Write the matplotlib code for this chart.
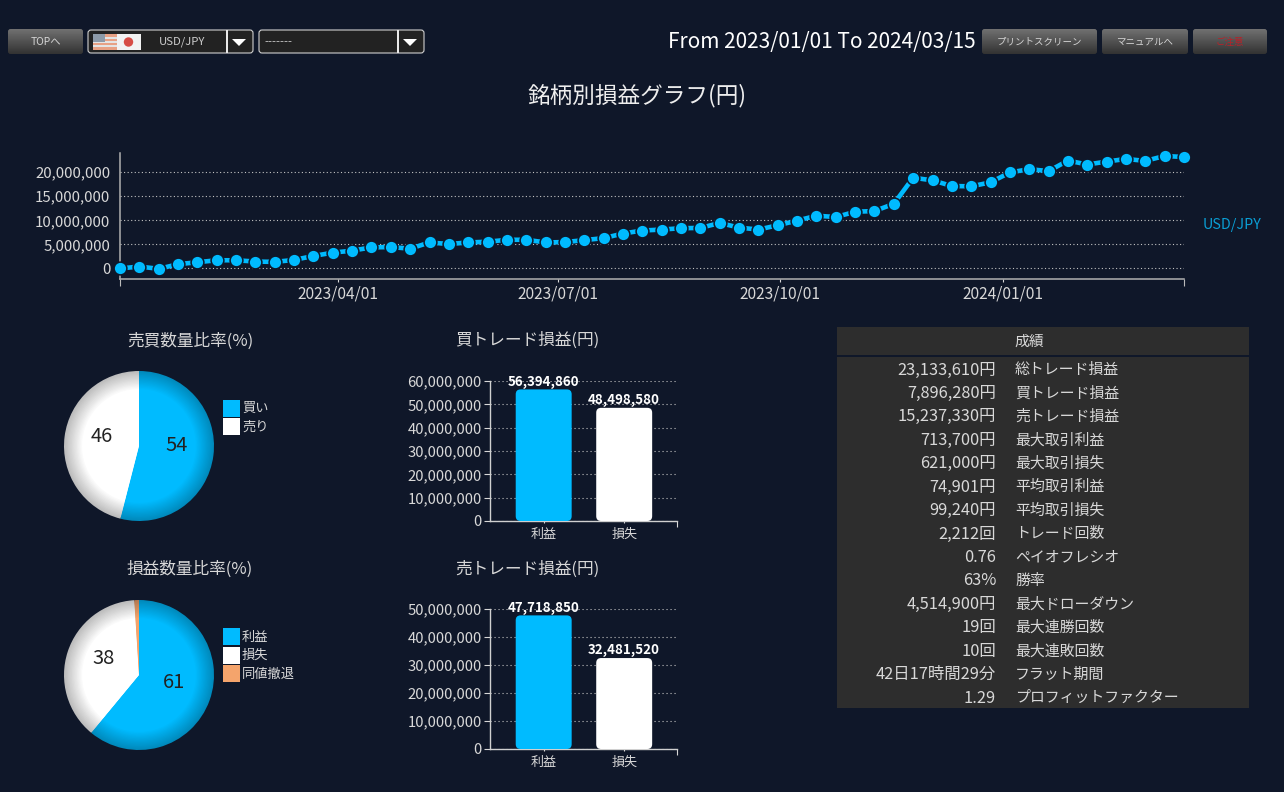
import matplotlib
matplotlib.use('Agg')
import matplotlib.pyplot as plt
import matplotlib.dates as mdates
from matplotlib.patches import Rectangle, FancyBboxPatch, Polygon, Circle
import numpy as np
import pandas as pd

plt.rcParams['font.family'] = ['Noto Sans CJK JP', 'DejaVu Sans']

BG = '#0f1729'
BLUE = '#00bbff'
ORANGE = '#f4a46c'
TXT = '#d8d8d8'
W, H = 1284, 792

# 損益推移 (8日ごと)
dates = pd.date_range('2023-01-01', periods=56, freq='8D')
profit = [0, 0.41, -0.07, 0.89, 1.30, 1.71, 1.71, 1.44, 1.37, 1.78, 2.60, 3.29, 3.70, 4.38,
          4.45, 4.11, 5.41, 5.07, 5.41, 5.55, 5.96, 5.96, 5.41, 5.48, 5.89, 6.30, 7.26, 7.88,
          8.08, 8.36, 8.42, 9.45, 8.49, 8.08, 8.97, 9.93, 10.96, 10.68, 11.78, 11.92, 13.42,
          18.84, 18.29, 17.12, 17.05, 17.88, 19.93, 20.62, 20.21, 22.40, 21.58, 22.19, 22.74,
          22.33, 23.36, 23.13]
line_ticks = [0, 5000000, 10000000, 15000000, 20000000]
date_ticks = ['2023-04-01', '2023-07-01', '2023-10-01', '2024-01-01']

pie1_labels = ['買い', '売り']
pie1_values = [54, 46]
pie2_labels = ['利益', '損失', '同値撤退']
pie2_values = [61, 38, 1]

bar_cats = ['利益', '損失']
buy_values = [56394860, 48498580]
sell_values = [47718850, 32481520]

table_values = ['23,133,610円', '7,896,280円', '15,237,330円', '713,700円', '621,000円',
                '74,901円', '99,240円', '2,212回', '0.76', '63%', '4,514,900円', '19回',
                '10回', '42日17時間29分', '1.29']
table_names = ['総トレード損益', '買トレード損益', '売トレード損益', '最大取引利益', '最大取引損失',
               '平均取引利益', '平均取引損失', 'トレード回数', 'ペイオフレシオ', '勝率',
               '最大ドローダウン', '最大連勝回数', '最大連敗回数', 'フラット期間', 'プロフィットファクター']

fig = plt.figure(figsize=(W / 100, H / 100), dpi=100, facecolor=BG)


def px_axes(x0, y0, x1, y1):
    # ピクセル指定で軸を作る (y は上から)
    ax = fig.add_axes([x0 / W, 1 - y1 / H, (x1 - x0) / W, (y1 - y0) / H])
    ax.patch.set_alpha(0)
    return ax


# 画面パーツ用のオーバーレイ
ov = fig.add_axes([0, 0, 1, 1], zorder=-1)
ov.set_xlim(0, W)
ov.set_ylim(H, 0)
ov.axis('off')


def button(x0, x1, label, color='#d6d6d6', size=6.8):
    grad = np.linspace(0.44, 0.2, 30).reshape(-1, 1)
    im = ov.imshow(grad, extent=(x0, x1, 54, 29), aspect='auto', cmap='gray', vmin=0, vmax=1,
                   interpolation='bilinear')
    box = FancyBboxPatch((x0, 29), x1 - x0, 25, boxstyle='round,pad=0,rounding_size=2.5',
                         fc='none', ec='none')
    ov.add_patch(box)
    im.set_clip_path(box)
    ov.text((x0 + x1) / 2, 42, label, color=color, fontsize=size, ha='center', va='center')


def dropdown(x0, x1, label, label_x, ha):
    ov.add_patch(FancyBboxPatch((x0, 30), x1 - x0, 23, boxstyle='round,pad=0,rounding_size=3',
                                fc='#222222', ec='#d0d0d0', lw=0.8))
    ov.plot([x1 - 26, x1 - 26], [31, 52], color='white', lw=1.3)
    ov.add_patch(Polygon([[x1 - 21, 39], [x1 - 7, 39], [x1 - 14, 46]], fc='white', ec='none'))
    ov.text(label_x, 42, label, color='#cccccc', fontsize=8.2, ha=ha, va='center')


button(8, 83, 'TOPへ', size=7.4)
button(982, 1097, 'プリントスクリーン')
button(1102, 1188, 'マニュアルへ')
button(1193, 1267, 'ご注意', color='#b5232a')
ov.set_xlim(0, W)
ov.set_ylim(H, 0)
dropdown(88, 253, 'USD/JPY', 182, 'center')
dropdown(259, 424, '-------', 264, 'left')

# 国旗
ov.add_patch(Rectangle((93, 34), 24, 16, fc='#e8a184', ec='none'))
for yy in [37, 41, 45]:
    ov.add_patch(Rectangle((93, yy), 24, 1.5, fc='#e4e4e4', ec='none'))
ov.add_patch(Rectangle((93, 34), 12, 8, fc='#8d9aa8', ec='none'))
ov.add_patch(Rectangle((117, 34), 23.5, 16, fc='#f2f2f2', ec='none'))
ov.add_patch(Circle((128.5, 42), 4.7, fc='#d64c45', ec='none'))

ov.text(822, 42.5, 'From 2023/01/01 To 2024/03/15', color='white', fontsize=15, ha='center', va='center')
ov.text(637, 96, '銘柄別損益グラフ(円)', color='#eeeeee', fontsize=16.3, ha='center', va='center')
ov.text(1232, 225, 'USD/JPY', color='#0a9ed4', fontsize=10.3, ha='center', va='center')
ov.text(190, 341, '売買数量比率(%)', color=TXT, fontsize=12, ha='center', va='center')
ov.text(190, 569, '損益数量比率(%)', color=TXT, fontsize=12, ha='center', va='center')
ov.text(527, 340, '買トレード損益(円)', color=TXT, fontsize=12, ha='center', va='center')
ov.text(527, 569, '売トレード損益(円)', color=TXT, fontsize=12, ha='center', va='center')

# 成績テーブル
ov.add_patch(Rectangle((837, 327), 412, 28, fc='#2d2d2d', ec='none'))
ov.add_patch(Rectangle((837, 357), 412, 351, fc='#2d2d2d', ec='none'))
ov.text(1029, 342, '成績', color=TXT, fontsize=10.7, ha='center', va='center')
for i, (val, name) in enumerate(zip(table_values, table_names)):
    yy = 370 + i * 23.43
    ov.text(996, yy, val, color=TXT, fontsize=11.8, ha='right', va='center')
    ov.text(1015, yy, name, color=TXT, fontsize=10.75, ha='left', va='center')

# 折れ線
ax = px_axes(120, 153, 1184, 279)
ax.plot(dates, np.array(profit) * 1e6, color=BLUE, lw=3.3, marker='o', ms=9.2, mec=BG, mew=1.1,
        clip_on=False, zorder=5)
ax.set_xlim(dates[0], dates[-1])
ax.set_ylim(-2180000, 23970000)
ax.set_yticks(line_ticks)
ax.yaxis.set_major_formatter(lambda v, p: f'{int(v):,}')
ax.set_xticks(pd.to_datetime(date_ticks))
ax.xaxis.set_major_formatter(mdates.DateFormatter('%Y/%m/%d'))
ax.set_xticks([dates[0], dates[-1]], minor=True)
ax.tick_params(axis='y', length=0, pad=7, colors=TXT, labelsize=10.8)
ax.tick_params(axis='x', which='major', length=2, width=0.8, pad=3, colors=TXT, labelsize=11.2)
ax.tick_params(axis='x', which='minor', length=5, width=0.8, colors='#bbbbbb')
ax.grid(axis='y', color='#c4c4c4', lw=0.8, ls=(0, (1, 2.2)))
for s in ['top', 'right']:
    ax.spines[s].set_visible(False)
for s in ['left', 'bottom']:
    ax.spines[s].set_color('#b0b0b0')
    ax.spines[s].set_linewidth(1.1)


def blend(c, k):
    rgb = np.array(matplotlib.colors.to_rgb(c))
    return tuple(rgb * k)


def shaded_pie(cx, cy, values, colors, labels, legend_y):
    a = px_axes(cx - 75, cy - 75, cx + 75, cy + 75)
    wedges = None
    # 外周を暗くして立体風にする
    for r in np.linspace(1.0, 0.76, 15):
        k = 0.74 + 0.26 * (1.0 - r) / 0.24
        wedges, _ = a.pie(values, colors=[blend(c, k) for c in colors], radius=r, startangle=90,
                          counterclock=False, wedgeprops={'lw': 0})
    a.set_xlim(-1, 1)
    a.set_ylim(-1, 1)
    for w, v in zip(wedges, values):
        if v < 5:
            continue
        ang = np.deg2rad((w.theta1 + w.theta2) / 2)
        a.text(0.5 * np.cos(ang), 0.5 * np.sin(ang) + 0.07, str(v), color='#222222', fontsize=14.5,
               ha='center', va='center')
    for i, (lab, c) in enumerate(zip(labels, colors)):
        yy = legend_y + i * 18.7
        ov.add_patch(Rectangle((223, yy), 17, 17, fc=c, ec='none'))
        ov.text(242, yy + 9, lab, color=TXT, fontsize=9.5, ha='left', va='center')


shaded_pie(139, 446, pie1_values, [BLUE, 'white'], pie1_labels, 399.5)
shaded_pie(139, 675, pie2_values, [BLUE, 'white', ORANGE], pie2_labels, 628)


def bar_panel(y0, y1, ymax, step, values):
    a = px_axes(490, y0, 677, y1)
    xpos = np.arange(len(bar_cats))
    a.set_xlim(-0.667, 1.656)
    a.set_ylim(0, ymax)
    bars = a.bar(xpos, values, width=0.695, color=[BLUE, 'white'])
    x_px = 187 / (1.656 + 0.667)
    y_px = (y1 - y0) / ymax
    for b, v in zip(bars, values):
        b.set_visible(False)
        a.add_patch(FancyBboxPatch((b.get_x(), 0), b.get_width(), v,
                                   boxstyle='round,pad=0,rounding_size=0.06',
                                   mutation_aspect=x_px / y_px, fc=b.get_facecolor(), ec='none', zorder=3))
        a.annotate(f'{v:,}', (b.get_x() + b.get_width() / 2, v), xytext=(0, 0.5),
                   textcoords='offset points', color='white', fontsize=9.6, fontweight='bold',
                   ha='center', va='bottom', zorder=4, annotation_clip=False)
    a.set_xticks(xpos, bar_cats)
    a.set_yticks(np.arange(0, ymax + 1, step))
    a.yaxis.set_major_formatter(lambda v, p: f'{int(v):,}')
    a.tick_params(axis='y', length=4, width=0.8, pad=2, colors=TXT, labelsize=10.7)
    a.tick_params(axis='x', length=1.5, width=0.8, pad=3.5, colors=TXT, labelsize=9.4)
    a.set_xticks([1.656], minor=True)
    a.tick_params(axis='x', which='minor', length=4, width=0.8, colors=TXT)
    a.grid(axis='y', color='#c4c4c4', lw=0.8, ls=(0, (1, 2.6)))
    a.set_axisbelow(True)
    for s in ['top', 'right']:
        a.spines[s].set_visible(False)
    for s in ['left', 'bottom']:
        a.spines[s].set_color('#d0d0d0')
        a.spines[s].set_linewidth(1)


bar_panel(381, 521, 60000000, 10000000, buy_values)
bar_panel(609, 749, 50000000, 10000000, sell_values)

fig.savefig('out.png', dpi=100, facecolor=BG)
